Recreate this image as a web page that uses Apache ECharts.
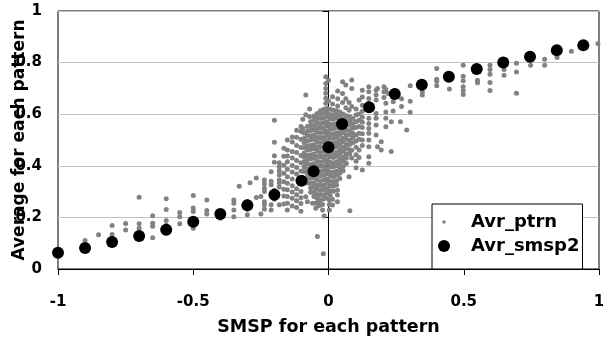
<!DOCTYPE html>
<html><head><meta charset="utf-8">
<script src="https://cdn.jsdelivr.net/npm/echarts@6/dist/echarts.min.js"></script>
<style>html,body{margin:0;padding:0;background:#fff}#c{width:603px;height:339px}</style>
</head><body><div id="c"></div><script>
const xTicks = [-1, -0.5, 0, 0.5, 1];
const yTicks = [0, 0.2, 0.4, 0.6, 0.8, 1];
const seriesNames = ['Avr_ptrn', 'Avr_smsp2'];

// Avr_smsp2 (large black dots)
const smspX = [-1, -0.9, -0.8, -0.7, -0.6, -0.5, -0.4, -0.3, -0.2, -0.1, -0.055, 0, 0.05, 0.15, 0.245, 0.345, 0.445, 0.548, 0.646, 0.745, 0.844, 0.942];
const smspY = [0.063, 0.081, 0.105, 0.128, 0.152, 0.183, 0.213, 0.247, 0.288, 0.342, 0.379, 0.472, 0.562, 0.627, 0.678, 0.714, 0.745, 0.775, 0.8, 0.823, 0.848, 0.867];

// Avr_ptrn (small grey dots), grouped by SMSP column: [x, [y values]]
const ptrnColumns = [
  [-1.0, [0.075]],
  [-0.9, [0.11]],
  [-0.85, [0.133]],
  [-0.8, [0.169, 0.134]],
  [-0.75, [0.176, 0.151]],
  [-0.7, [0.278, 0.175, 0.158]],
  [-0.65, [0.206, 0.177, 0.166, 0.121]],
  [-0.6, [0.272, 0.231, 0.188, 0.17]],
  [-0.55, [0.219, 0.203, 0.175]],
  [-0.5, [0.285, 0.236, 0.223, 0.158]],
  [-0.45, [0.267, 0.227, 0.213]],
  [-0.4, [0.197, 0.225]],
  [-0.35, [0.267, 0.255, 0.229, 0.203]],
  [-0.33, [0.321]],
  [-0.3, [0.21, 0.232, 0.262]],
  [-0.29, [0.334]],
  [-0.267, [0.353, 0.277]],
  [-0.25, [0.213, 0.281]],
  [-0.237, [0.345, 0.33, 0.313, 0.3, 0.261, 0.249, 0.232]],
  [-0.212, [0.377, 0.34, 0.327, 0.249, 0.229]],
  [-0.2, [0.577, 0.491, 0.439, 0.414, 0.305, 0.27]],
  [-0.182, [0.412, 0.396, 0.38, 0.364, 0.345, 0.334, 0.318, 0.249]],
  [-0.165, [0.468, 0.437, 0.402, 0.371, 0.338, 0.309, 0.283, 0.252]],
  [-0.152, [0.5, 0.461, 0.438, 0.416, 0.387, 0.358, 0.332, 0.307, 0.281, 0.255, 0.229]],
  [-0.134, [0.512, 0.492, 0.455, 0.43, 0.401, 0.376, 0.349, 0.323, 0.298, 0.274, 0.244]],
  [-0.118, [0.538, 0.511, 0.479, 0.452, 0.421, 0.393, 0.368, 0.311, 0.288, 0.265, 0.238]],
  [-0.102, [0.552, 0.533, 0.503, 0.471, 0.44, 0.412, 0.38, 0.3, 0.276, 0.254, 0.224]],
  [-0.095, [0.58, 0.545]],
  [-0.09, [0.378, 0.396, 0.415, 0.433, 0.45, 0.471, 0.489, 0.506, 0.527]],
  [-0.084, [0.674, 0.598, 0.28]],
  [-0.078, [0.261, 0.333, 0.351, 0.369, 0.386, 0.406, 0.424, 0.44, 0.461, 0.478, 0.497, 0.517, 0.534, 0.552]],
  [-0.07, [0.62, 0.59]],
  [-0.066, [0.297, 0.315, 0.332, 0.352, 0.369, 0.389, 0.405, 0.426, 0.443, 0.463, 0.479, 0.5, 0.516, 0.537, 0.553, 0.571]],
  [-0.059, [0.255]],
  [-0.054, [0.281, 0.297, 0.317, 0.334, 0.355, 0.371, 0.392, 0.408, 0.429, 0.445, 0.466, 0.482, 0.503, 0.519, 0.54, 0.556, 0.577, 0.593]],
  [-0.047, [0.255, 0.235]],
  [-0.042, [0.273, 0.289, 0.309, 0.326, 0.346, 0.363, 0.383, 0.4, 0.42, 0.437, 0.457, 0.474, 0.494, 0.511, 0.531, 0.548, 0.568, 0.585, 0.603]],
  [-0.041, [0.126]],
  [-0.034, [0.261, 0.245]],
  [-0.03, [0.267, 0.287, 0.304, 0.324, 0.341, 0.361, 0.378, 0.398, 0.415, 0.435, 0.452, 0.472, 0.489, 0.509, 0.526, 0.546, 0.563, 0.583, 0.6, 0.613]],
  [-0.022, [0.229, 0.25]],
  [-0.019, [0.059]],
  [-0.018, [0.271, 0.288, 0.308, 0.325, 0.345, 0.362, 0.382, 0.399, 0.419, 0.436, 0.456, 0.473, 0.493, 0.51, 0.53, 0.547, 0.567, 0.584, 0.604, 0.619]],
  [-0.016, [0.205]],
  [-0.01, [0.745, 0.719, 0.7, 0.681, 0.662, 0.642]],
  [-0.006, [0.275, 0.295, 0.312, 0.332, 0.349, 0.369, 0.386, 0.406, 0.423, 0.443, 0.46, 0.48, 0.497, 0.517, 0.534, 0.554, 0.571, 0.591, 0.608, 0.623]],
  [0.0, [0.732, 0.652]],
  [0.003, [0.267, 0.229, 0.25]],
  [0.006, [0.286, 0.303, 0.323, 0.34, 0.36, 0.377, 0.397, 0.414, 0.434, 0.451, 0.471, 0.488, 0.508, 0.525, 0.545, 0.562, 0.582, 0.599, 0.619]],
  [0.015, [0.668, 0.64, 0.248, 0.27]],
  [0.018, [0.301, 0.321, 0.338, 0.358, 0.375, 0.395, 0.412, 0.432, 0.449, 0.469, 0.486, 0.506, 0.523, 0.543, 0.56, 0.58, 0.597, 0.615]],
  [0.03, [0.326, 0.342, 0.363, 0.379, 0.4, 0.416, 0.437, 0.453, 0.474, 0.49, 0.511, 0.527, 0.548, 0.564, 0.585, 0.601, 0.613]],
  [0.033, [0.261, 0.287, 0.305]],
  [0.034, [0.69, 0.66, 0.632]],
  [0.042, [0.351, 0.371, 0.388, 0.408, 0.425, 0.445, 0.462, 0.482, 0.499, 0.519, 0.536, 0.556, 0.573, 0.593, 0.609]],
  [0.052, [0.726, 0.68, 0.645]],
  [0.054, [0.381, 0.397, 0.418, 0.434, 0.455, 0.471, 0.492, 0.508, 0.529, 0.545, 0.566, 0.582, 0.601]],
  [0.064, [0.713, 0.66, 0.625]],
  [0.066, [0.409, 0.429, 0.446, 0.466, 0.483, 0.503, 0.52, 0.54, 0.557, 0.577, 0.594]],
  [0.076, [0.358, 0.645, 0.615]],
  [0.078, [0.446, 0.462, 0.483, 0.499, 0.52, 0.536, 0.557, 0.573, 0.591]],
  [0.079, [0.226]],
  [0.086, [0.733, 0.7, 0.63, 0.43, 0.46]],
  [0.09, [0.489, 0.509, 0.526, 0.546, 0.563, 0.583]],
  [0.102, [0.62, 0.597, 0.571, 0.548, 0.519, 0.496, 0.472, 0.443, 0.418, 0.392]],
  [0.113, [0.655, 0.601, 0.577, 0.552, 0.526, 0.503, 0.461, 0.432]],
  [0.125, [0.693, 0.667, 0.635, 0.611, 0.588, 0.569, 0.548, 0.524, 0.5, 0.479, 0.384]],
  [0.149, [0.706, 0.687, 0.661, 0.642, 0.584, 0.564, 0.545, 0.526, 0.5, 0.474, 0.435, 0.41]],
  [0.176, [0.693, 0.674, 0.655, 0.603, 0.584, 0.558, 0.519]],
  [0.181, [0.7, 0.474]],
  [0.195, [0.493, 0.461]],
  [0.205, [0.706, 0.687, 0.665]],
  [0.212, [0.696, 0.642, 0.609, 0.584, 0.551]],
  [0.22, [0.68]],
  [0.232, [0.571, 0.455]],
  [0.239, [0.648, 0.612]],
  [0.25, [0.69]],
  [0.266, [0.571]],
  [0.27, [0.66, 0.63]],
  [0.289, [0.539]],
  [0.302, [0.71, 0.65, 0.608]],
  [0.347, [0.687, 0.674]],
  [0.4, [0.777, 0.735, 0.728, 0.71]],
  [0.447, [0.698]],
  [0.498, [0.79, 0.747, 0.73, 0.706, 0.691, 0.676]],
  [0.551, [0.732, 0.722]],
  [0.597, [0.79, 0.773, 0.755, 0.723, 0.692]],
  [0.649, [0.773, 0.751]],
  [0.695, [0.797, 0.764, 0.681]],
  [0.747, [0.79]],
  [0.799, [0.813, 0.79]],
  [0.845, [0.82]],
  [0.898, [0.844]],
  [0.996, [0.874]]
];

const avrPtrn = [];
ptrnColumns.forEach(function (c) { c[1].forEach(function (y) { avrPtrn.push([c[0], y]); }); });
const avrSmsp2 = smspX.map(function (x, i) { return [x, smspY[i]]; });

const FONT = 'DejaVu Sans';
const chart = echarts.init(document.getElementById('c'), null, { renderer: 'canvas' });
chart.setOption({
  animation: false,
  backgroundColor: '#ffffff',
  grid: { left: 58, top: 11, width: 541, height: 258, show: true, borderColor: '#000', borderWidth: 1, backgroundColor: 'transparent', containLabel: false, outerBoundsMode: 'none' },
  xAxis: {
    type: 'value', min: xTicks[0], max: xTicks[xTicks.length - 1], interval: 0.5,
    name: 'SMSP for each pattern', nameLocation: 'middle', nameGap: 49, nameMoveOverlap: false,
    nameTextStyle: { fontFamily: FONT, fontWeight: 'bold', fontSize: 17.5, color: '#000' },
    axisLine: { show: true, onZero: false, lineStyle: { color: '#000', width: 1 } },
    axisTick: { show: true, inside: false, length: 6, lineStyle: { color: '#000' } },
    axisLabel: { margin: 26, fontFamily: FONT, fontWeight: 'bold', fontSize: 15, color: '#000' },
    splitLine: { show: false }
  },
  yAxis: [{
    type: 'value', min: yTicks[0], max: yTicks[yTicks.length - 1], interval: 0.2,
    axisLine: { show: true, onZero: true, lineStyle: { color: '#000', width: 1 } },
    axisTick: { show: true, inside: false, length: 6, lineStyle: { color: '#000' } },
    axisLabel: { margin: 16, fontFamily: FONT, fontWeight: 'bold', fontSize: 15, color: '#000' },
    splitLine: { show: true, lineStyle: { color: '#c0c0c0', width: 1 } }
  }, {
    type: 'value', min: yTicks[0], max: yTicks[yTicks.length - 1], interval: 0.2, position: 'left',
    name: 'Average for each pattern', nameLocation: 'middle', nameGap: 30, nameMoveOverlap: false,
    nameTextStyle: { fontFamily: FONT, fontWeight: 'bold', fontSize: 17, color: '#000' },
    axisLine: { show: false, onZero: false }, axisTick: { show: false }, axisLabel: { show: false },
    splitLine: { show: false }
  }],
  legend: {
    orient: 'vertical', left: 432, top: 204, padding: [9, 3, 14, 6], itemGap: 6,
    itemWidth: 44, itemHeight: 12, selectedMode: false,
    backgroundColor: '#fff', borderColor: '#000', borderWidth: 1, borderRadius: 0,
    textStyle: { fontFamily: FONT, fontWeight: 'bold', fontSize: 18, color: '#000', lineHeight: 18 },
    data: [
      { name: seriesNames[0], icon: 'path://M0,0M12,12M4.2,6a1.8,1.8 0 1,0 3.6,0a1.8,1.8 0 1,0 -3.6,0z' },
      { name: seriesNames[1], icon: 'circle' }
    ]
  },
  series: [
    { name: seriesNames[0], type: 'scatter', yAxisIndex: 0, data: avrPtrn, symbol: 'circle', symbolSize: 5, itemStyle: { color: '#828282', opacity: 1 }, z: 2 },
    { name: seriesNames[1], type: 'scatter', yAxisIndex: 0, data: avrSmsp2, symbol: 'circle', symbolSize: 12, itemStyle: { color: '#000000', opacity: 1 }, z: 3 }
  ]
});
</script></body></html>
